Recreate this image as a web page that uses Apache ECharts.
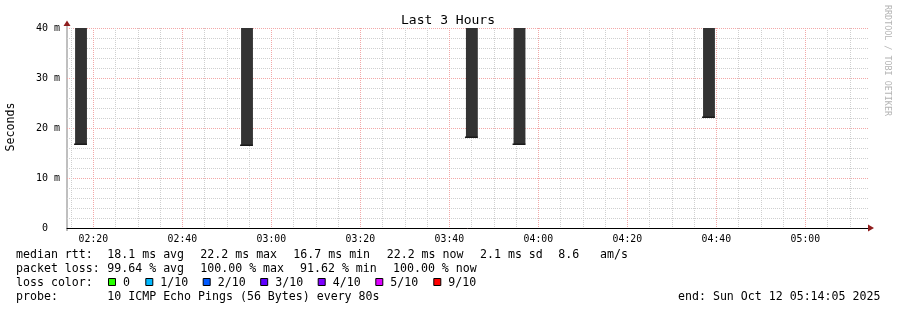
<!DOCTYPE html>
<html>
<head>
<meta charset="utf-8">
<script src="https://cdn.jsdelivr.net/npm/echarts@6/dist/echarts.min.js"></script>
<style>
html,body{margin:0;padding:0;background:#fff;}
#chart{width:897px;height:310px;}
</style>
</head>
<body>
<div id="chart"></div>
<script>
// ---- data ----
const startTime = '02:14:05';
const endTime = '05:14:05';
const barTimes = ['02:17:14', '02:54:32', '03:45:04', '03:55:46', '04:38:21'];
const barLows = [16.7, 16.5, 18.1, 16.7, 22.1];   // ms
const barHighs = [40, 40, 40, 40, 40];           // clipped at top of graph
const barSpanSeconds = 160;
const xTickLabels = ['02:20', '02:40', '03:00', '03:20', '03:40', '04:00', '04:20', '04:40', '05:00'];

const rttLabel = 'median rtt:';
const rttStats = ['18.1 ms avg', '22.2 ms max', '16.7 ms min', '22.2 ms now', '2.1 ms sd', '8.6', 'am/s'];
const lossLabel = 'packet loss:';
const lossStats = ['99.64 % avg', '100.00 % max', '91.62 % min', '100.00 % now'];
const lossColorLabel = 'loss color:';
const lossLabels = ['0', '1/10', '2/10', '3/10', '4/10', '5/10', '9/10'];
const lossColors = ['#26ff00', '#00b8ff', '#0059ff', '#5e00ff', '#7e00ff', '#dd00ff', '#ff0000'];
const probeLabel = 'probe:';
const probeText = '10 ICMP Echo Pings (56 Bytes) every 80s';
const endText = 'end: Sun Oct 12 05:14:05 2025';

// ---- helpers ----
function toMin(s) {
  const p = s.split(':').map(Number);
  return p[0] * 60 + p[1] + (p[2] || 0) / 60;
}
const xMin = toMin(startTime), xMax = toMin(endTime);
const majorVals = xTickLabels.map(toMin);
const minorVals = [];
for (let m = Math.ceil(xMin / 5) * 5; m <= xMax; m += 5) {
  if (m % 20 !== 0) minorVals.push(m);
}
const halfSpan = barSpanSeconds / 120;
const barData = barTimes.map((t, i) => [toMin(t), barLows[i], barHighs[i]]);

const FONT = 'DejaVu Sans Mono';
const RED = '#f2a8a8';
const GRAY = '#cfcfcf';

const chart = echarts.init(document.getElementById('chart'), null, {renderer: 'canvas'});

// legend graphics
const g = [];
function txt(x, y, s, extra) {
  g.push(Object.assign({
    type: 'text', x: x, y: y, silent: true,
    style: {text: s, fontFamily: FONT, fontSize: 11.6, fill: '#000', textVerticalAlign: 'middle', textAlign: 'left'}
  }, extra || {}));
}
const rttX = [107.3, 200.3, 293.3, 386.7, 480, 558.3, 600];
txt(16, 255, rttLabel);
rttStats.forEach((s, i) => txt(rttX[i], 255, s));
const lossX = [107.3, 200.3, 300, 393];
txt(16, 269, lossLabel);
lossStats.forEach((s, i) => txt(lossX[i], 269, s));
txt(16, 283, lossColorLabel);
const boxX = [108.5, 145.8, 203.2, 260.7, 318.2, 375.8, 433.8];
lossLabels.forEach((s, i) => {
  g.push({type: 'rect', silent: true, shape: {x: boxX[i], y: 278.5, width: 7, height: 7},
    style: {fill: lossColors[i], stroke: '#000', lineWidth: 1}});
  txt(boxX[i] + 14.5, 283, s);
});
txt(16, 297, probeLabel);
txt(107.3, 297, probeText);
txt(678, 297, endText);
// title
g.push({type: 'text', x: 448, y: 20.5, silent: true,
  style: {text: 'Last 3 Hours', fontFamily: FONT, fontSize: 13, fill: '#000', textAlign: 'center', textVerticalAlign: 'middle'}});
// y axis name
g.push({type: 'text', x: 11, y: 127, rotation: Math.PI / 2, silent: true,
  style: {text: 'Seconds', fontFamily: FONT, fontSize: 11.6, fill: '#000', textAlign: 'center', textVerticalAlign: 'middle'}});
// watermark
g.push({type: 'text', x: 887.5, y: 60.5, rotation: -Math.PI / 2, silent: true,
  style: {text: 'RRDTOOL / TOBI OETIKER', fontFamily: FONT, fontSize: 8.4, fill: '#b4b4b4', textAlign: 'center', textVerticalAlign: 'middle'}});
// arrows
g.push({type: 'polygon', silent: true, z: 10, shape: {points: [[868, 224.5], [874, 228], [868, 231.5]]}, style: {fill: '#8f1d1d'}});
g.push({type: 'polygon', silent: true, z: 10, shape: {points: [[63.5, 26], [67, 20.5], [70.5, 26]]}, style: {fill: '#8f1d1d'}});
g.push({type: 'line', silent: true, shape: {x1: 67, y1: 25, x2: 67, y2: 231}, style: {stroke: '#808080', lineWidth: 1}});

const option = {
  animation: false,
  backgroundColor: '#fff',
  grid: {left: 67, right: 29, top: 28, bottom: 82, containLabel: false},
  xAxis: [{
    type: 'value', min: xMin, max: xMax,
    axisLine: {show: true, lineStyle: {color: '#000', width: 1}},
    axisTick: {show: false, customValues: majorVals},
    axisLabel: {customValues: majorVals, formatter: (v) => {
      const i = majorVals.findIndex(m => Math.abs(m - v) < 1e-6);
      return i >= 0 ? xTickLabels[i] : '';
    }, fontFamily: FONT, fontSize: 9.8, color: '#000', margin: 6},
    splitLine: {show: true, lineStyle: {color: RED, type: [1, 1], width: 1}},
    z: 3
  }, {
    type: 'value', min: xMin, max: xMax, position: 'bottom',
    axisLine: {show: false}, axisLabel: {show: false},
    axisTick: {show: false, customValues: minorVals},
    splitLine: {show: true, lineStyle: {color: GRAY, type: [1, 1], width: 1}},
    z: 1
  }],
  yAxis: {
    type: 'value', min: 0, max: 40, interval: 10,
    axisLine: {show: false},
    axisTick: {show: false},
    axisLabel: {fontFamily: FONT, fontSize: 10, color: '#000', margin: 7, padding: [3, 0, 0, 0],
      formatter: (v) => v === 0 ? '0  ' : (v + ' m')},
    splitLine: {show: true, lineStyle: {color: RED, type: [1, 1], width: 1}},
    minorTick: {show: false, splitNumber: 5},
    minorSplitLine: {show: true, lineStyle: {color: GRAY, type: [1, 1], width: 1}}
  },
  series: [{
    type: 'custom',
    xAxisIndex: 0,
    data: barData,
    z: 5,
    renderItem: function (params, api) {
      const t = api.value(0), lo = api.value(1), hi = api.value(2);
      const p0 = api.coord([t - halfSpan, hi]);
      const p1 = api.coord([t + halfSpan, lo]);
      const cs = params.coordSys;
      const rect = echarts.graphic.clipRectByRect(
        {x: p0[0], y: p0[1], width: p1[0] - p0[0], height: p1[1] - p0[1]},
        {x: cs.x, y: cs.y, width: cs.width, height: cs.height});
      const line = {x: p0[0] - 1, y: p1[1] - 1, width: p1[0] - p0[0] + 1, height: 1.5};
      return {type: 'group', children: [
        {type: 'rect', shape: rect, style: {fill: '#333333'}},
        {type: 'rect', shape: line, style: {fill: '#1a1a1a'}}
      ]};
    }
  }],
  graphic: g
};
chart.setOption(option);
</script>
</body>
</html>
